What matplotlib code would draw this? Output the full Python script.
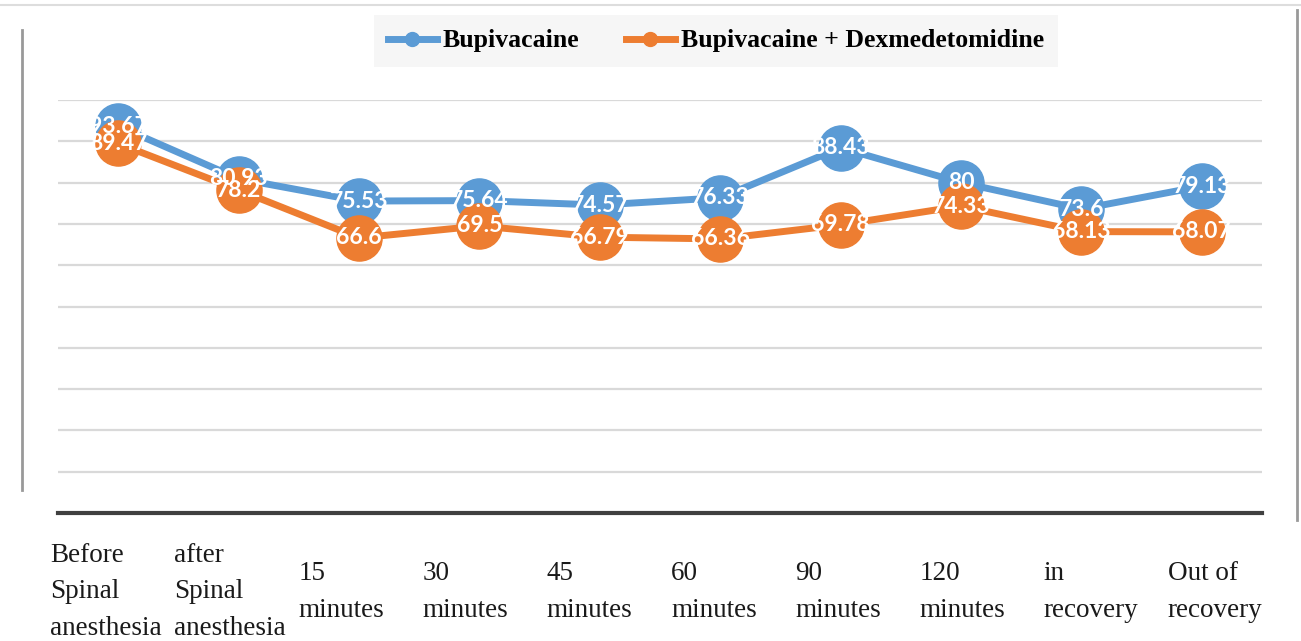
import matplotlib
matplotlib.use("Agg")
import matplotlib.pyplot as plt
from matplotlib.lines import Line2D

# categories (x axis) and the two series
categories = ["Before\nSpinal\nanesthesia", "after\nSpinal\nanesthesia",
              "15\nminutes", "30\nminutes", "45\nminutes", "60\nminutes",
              "90\nminutes", "120\nminutes", "in\nrecovery", "Out of\nrecovery"]
bupi = [93.67, 80.93, 75.53, 75.64, 74.57, 76.33, 88.43, 80, 73.6, 79.13]
bupi_dex = [89.47, 78.2, 66.6, 69.5, 66.79, 66.36, 69.78, 74.33, 68.13, 68.07]
series_names = ["Bupivacaine", "Bupivacaine + Dexmedetomidine"]

blue = "#5B9BD5"
orange = "#ED7D31"

W, H = 1301, 641
fig = plt.figure(figsize=(W / 100, H / 100), dpi=100)
ax = fig.add_axes([58 / W, (H - 513) / H, (1262 - 58) / W, (513 - 100) / H])

x = list(range(len(categories)))
ax.plot(x, bupi, color=blue, lw=5, marker="o", ms=32.5, zorder=3, clip_on=False)
ax.plot(x, bupi_dex, color=orange, lw=5, marker="o", ms=32.5, zorder=4, clip_on=False)

# value labels inside the circles
for xi, v in zip(x, bupi):
    ax.text(xi, v, f"{v:g}", ha="center", va="center", color="white",
            fontsize=16.5, fontweight="bold", family="Lato", zorder=6)
for xi, v in zip(x, bupi_dex):
    ax.text(xi, v, f"{v:g}", ha="center", va="center", color="white",
            fontsize=16.5, fontweight="bold", family="Lato", zorder=6)

ax.set_xlim(-0.5, len(categories) - 0.5)
ax.set_ylim(0, 100)
ax.set_yticks(range(10, 101, 10))
ax.yaxis.grid(True, color="#d9d9d9", lw=1.6)
ax.set_axisbelow(True)
ax.tick_params(left=False, bottom=False, labelleft=False, labelbottom=False)
for s in ["left", "right", "top"]:
    ax.spines[s].set_visible(False)
ax.spines["bottom"].set_color("#404040")
ax.spines["bottom"].set_linewidth(3)

# category labels (laid out a bit wider than the plot, left aligned)
for i, lab in enumerate(categories):
    fig.text((50 + 124.2 * i) / W, 1 - 592 / H, lab, ha="left", va="center",
             family="Liberation Serif", fontsize=19.5, linespacing=1.62,
             color="#1a1a1a")

# legend
handles = [Line2D([0], [0], color=blue, lw=5, marker="o", ms=10),
           Line2D([0], [0], color=orange, lw=5, marker="o", ms=10)]
leg = fig.legend(handles, series_names, loc="center", ncol=2,
                 bbox_to_anchor=(716 / W, 1 - 41 / H), frameon=True,
                 prop={"family": "Liberation Serif", "weight": "bold", "size": 18.5},
                 handlelength=1.9, handletextpad=0.25, columnspacing=1.8,
                 borderpad=0.55, borderaxespad=0, fancybox=False)
leg.get_frame().set_facecolor("#f4f4f4")
leg.get_frame().set_edgecolor("none")

# thin border lines from the original screenshot
fig.add_artist(Line2D([0, 1], [1 - 5 / H, 1 - 5 / H], color="#dddddd", lw=1.5))
fig.add_artist(Line2D([22 / W, 22 / W], [1 - 30 / H, 1 - 490 / H], color="#999999", lw=2))
fig.add_artist(Line2D([1297 / W, 1297 / W], [1 - 10 / H, 1 - 520 / H], color="#999999", lw=2))

fig.savefig("out.png", dpi=100)
